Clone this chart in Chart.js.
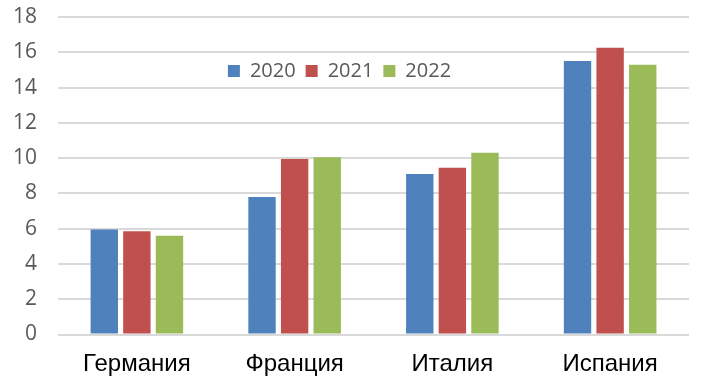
<!DOCTYPE html>
<html>
<head>
<meta charset="utf-8">
<script src="https://cdn.jsdelivr.net/npm/chart.js@4"></script>
<style>
  html, body { margin: 0; padding: 0; background: #fff; }
  #wrap { width: 705px; height: 391px; position: relative; }
</style>
</head>
<body>
<div id="wrap"><canvas id="chart"></canvas></div>
<script>
// values
const countries = ['Германия', 'Франция', 'Италия', 'Испания'];
const years = ['2020', '2021', '2022'];
const v2020 = [5.95, 7.8, 9.1, 15.5];
const v2021 = [5.85, 9.95, 9.45, 16.25];
const v2022 = [5.6, 10.05, 10.3, 15.3];
const colors = ['#4f81bd', '#c0504d', '#9bbb59'];

// the legend floats over the plot: it takes no room in the layout and
// gets moved down into the chart area after layout
const legendInside = {
  id: 'legendInside',
  afterInit(chart) {
    const lg = chart.legend;
    const fit = lg.fit;
    lg.fit = function () { fit.call(this); this._h = this.height; this.height = 0; };
  },
  afterLayout(chart) {
    const lg = chart.legend;
    lg.top = 51; lg.height = lg._h; lg.bottom = lg.top + lg._h;
    lg.left = 0; lg.right = 679; lg.width = 679;
  }
};

new Chart(document.getElementById('chart'), {
  type: 'bar',
  data: {
    labels: countries,
    datasets: [v2020, v2021, v2022].map((d, i) => ({
      label: years[i],
      data: d,
      backgroundColor: colors[i],
      categoryPercentage: 0.62,
      barPercentage: 0.84,
    })),
  },
  options: {
    responsive: true,
    maintainAspectRatio: false,
    animation: false,
    devicePixelRatio: 1,
    layout: { padding: { left: 14, right: 16, top: 17, bottom: 0 } },
    plugins: {
      tooltip: { enabled: false },
      legend: {
        position: 'top',
        align: 'center',
        labels: {
          boxWidth: 12,
          boxHeight: 12,
          padding: 10,
          color: '#595959',
          font: { family: 'Open Sans', size: 20 },
        },
      },
    },
    scales: {
      x: {
        grid: { display: false, drawTicks: false },
        border: { display: false },
        ticks: { color: '#000', padding: 15, font: { family: 'Liberation Sans', size: 24 } },
        afterFit: (s) => { s.height = 56.5; },
      },
      y: {
        min: 0, max: 18,
        grid: { color: '#d9d9d9', lineWidth: 2, drawTicks: false },
        border: { display: false },
        ticks: { stepSize: 2, padding: 21, color: '#595959', font: { family: 'Open Sans', size: 21 } },
        afterFit: (s) => { s.width = 44; s.paddingTop = 0; s.paddingBottom = 0; },
      },
    },
  },
  plugins: [legendInside],
});
</script>
</body>
</html>
